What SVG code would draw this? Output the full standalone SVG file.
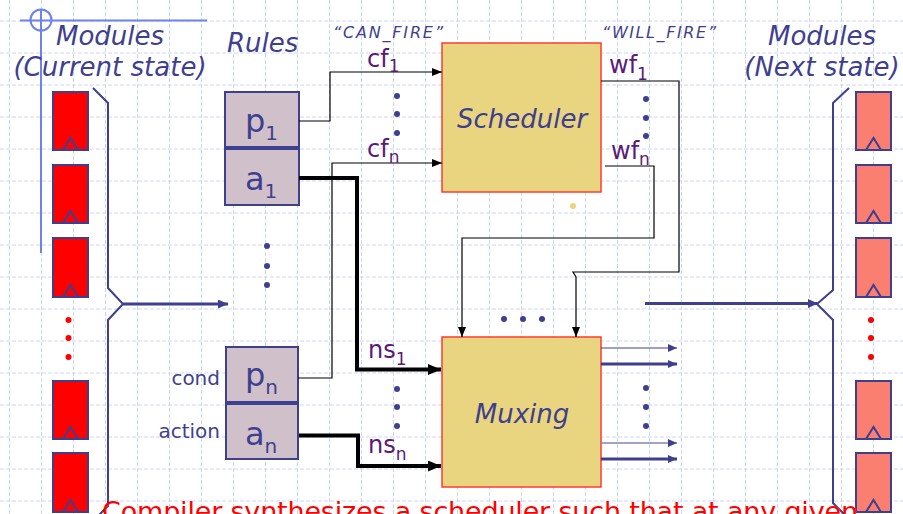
<svg xmlns="http://www.w3.org/2000/svg" width="903" height="514" viewBox="0 0 903 514">
<style>
.grid line{stroke:#cdd5f7;stroke-width:1;stroke-dasharray:4 2}
.deco{fill:none;stroke:#6b82f0;stroke-width:2}
.title{font-family:"DejaVu Sans",Verdana,sans-serif;font-style:italic;fill:#3f3f8f;font-size:26px}
.q{font-family:"DejaVu Sans",Verdana,sans-serif;font-style:italic;fill:#3f3f8f;font-size:16px}
.sig{font-family:"DejaVu Sans",Verdana,sans-serif;fill:#5a1a78;font-size:24px}
.sig tspan{font-size:17px}
.rt{font-family:"DejaVu Sans",Verdana,sans-serif;fill:#3f3f8f;font-size:32px}
.rt tspan{font-size:20px}
.lbl{font-family:"DejaVu Sans",Verdana,sans-serif;fill:#3f3f8f;font-size:20px}
.modL{fill:#ff0000;stroke:#3f3f8f;stroke-width:2}
.modR{fill:#fa7f70;stroke:#3f3f8f;stroke-width:2}
.clk{fill:none;stroke:#3f3f8f;stroke-width:2}
.rule{fill:#d0c0c9;stroke:#3f3f8f;stroke-width:2}
.blk{fill:#e9d580;stroke:#ff3b2f;stroke-width:1.5}
.dot{fill:#3f3f8f}
.rdot{fill:#ff0000}
.thin{fill:none;stroke:#000;stroke-width:1.2}
.thick{fill:none;stroke:#000;stroke-width:4}
.brk{fill:none;stroke:#3f3f8f;stroke-width:2}
.bus{fill:none;stroke:#3f3f8f;stroke-width:3}
.out1{fill:none;stroke:#3f3f8f;stroke-width:1.2}
.out2{fill:none;stroke:#8585b5;stroke-width:1.5}
.foot{font-family:"DejaVu Sans",Verdana,sans-serif;fill:#ff0000;font-size:27px}
</style>
<defs>
<marker id="ah" markerUnits="userSpaceOnUse" markerWidth="10" markerHeight="8" refX="10" refY="4" orient="auto"><path d="M0,0 L10,4 L0,8 z" fill="#000"/></marker>
<marker id="ahT" markerUnits="userSpaceOnUse" markerWidth="13" markerHeight="11" refX="13" refY="5.5" orient="auto"><path d="M0,0 L13,5.5 L0,11 z" fill="#000"/></marker>
<marker id="ahB" markerUnits="userSpaceOnUse" markerWidth="10" markerHeight="9" refX="10" refY="4.5" orient="auto"><path d="M0,0 L10,4.5 L0,9 z" fill="#3f3f8f"/></marker>
<marker id="ahB2" markerUnits="userSpaceOnUse" markerWidth="9" markerHeight="8" refX="9" refY="4" orient="auto"><path d="M0,0 L9,4 L0,8 z" fill="#3f3f8f"/></marker>
</defs>
<rect width="903" height="514" fill="#ffffff"/>
<g class="grid">
<line x1="9.5" y1="0" x2="9.5" y2="514"/><line x1="41.5" y1="0" x2="41.5" y2="514"/><line x1="73.5" y1="0" x2="73.5" y2="514"/><line x1="105.5" y1="0" x2="105.5" y2="514"/><line x1="137.5" y1="0" x2="137.5" y2="514"/><line x1="169.5" y1="0" x2="169.5" y2="514"/><line x1="201.5" y1="0" x2="201.5" y2="514"/><line x1="233.5" y1="0" x2="233.5" y2="514"/><line x1="265.5" y1="0" x2="265.5" y2="514"/><line x1="297.5" y1="0" x2="297.5" y2="514"/><line x1="329.5" y1="0" x2="329.5" y2="514"/><line x1="361.5" y1="0" x2="361.5" y2="514"/><line x1="393.5" y1="0" x2="393.5" y2="514"/><line x1="425.5" y1="0" x2="425.5" y2="514"/><line x1="457.5" y1="0" x2="457.5" y2="514"/><line x1="489.5" y1="0" x2="489.5" y2="514"/><line x1="521.5" y1="0" x2="521.5" y2="514"/><line x1="553.5" y1="0" x2="553.5" y2="514"/><line x1="585.5" y1="0" x2="585.5" y2="514"/><line x1="617.5" y1="0" x2="617.5" y2="514"/><line x1="649.5" y1="0" x2="649.5" y2="514"/><line x1="681.5" y1="0" x2="681.5" y2="514"/><line x1="713.5" y1="0" x2="713.5" y2="514"/><line x1="745.5" y1="0" x2="745.5" y2="514"/><line x1="777.5" y1="0" x2="777.5" y2="514"/><line x1="809.5" y1="0" x2="809.5" y2="514"/><line x1="841.5" y1="0" x2="841.5" y2="514"/><line x1="873.5" y1="0" x2="873.5" y2="514"/>
<line x1="0" y1="21" x2="903" y2="21"/><line x1="0" y1="53" x2="903" y2="53"/><line x1="0" y1="85" x2="903" y2="85"/><line x1="0" y1="117" x2="903" y2="117"/><line x1="0" y1="149" x2="903" y2="149"/><line x1="0" y1="181" x2="903" y2="181"/><line x1="0" y1="213" x2="903" y2="213"/><line x1="0" y1="245" x2="903" y2="245"/><line x1="0" y1="277" x2="903" y2="277"/><line x1="0" y1="309" x2="903" y2="309"/><line x1="0" y1="341" x2="903" y2="341"/><line x1="0" y1="373" x2="903" y2="373"/><line x1="0" y1="405" x2="903" y2="405"/><line x1="0" y1="437" x2="903" y2="437"/><line x1="0" y1="469" x2="903" y2="469"/><line x1="0" y1="501" x2="903" y2="501"/>
</g>
<g id="decoration">
<path class="deco" d="M20,20.5 H207 M41,10 V253"/>
<circle class="deco" cx="41" cy="20" r="10.5" stroke-width="1.5"/>
</g>
<g id="titles">
<text class="title" x="110" y="45" text-anchor="middle">Modules</text>
<text class="title" x="110" y="76" text-anchor="middle">(Current state)</text>
<text class="title" x="227" y="52">Rules</text>
<text class="title" x="822" y="45" text-anchor="middle">Modules</text>
<text class="title" x="822" y="76" text-anchor="middle">(Next state)</text>
<text class="q" x="333" y="38" textLength="110">“CAN_FIRE”</text>
<text class="q" x="602" y="38" textLength="114">“WILL_FIRE”</text>
</g>
<g id="modules-current">
<rect class="modL" x="53" y="92" width="35" height="58"/><path class="clk" d="M63,150 L70.5,138 L78,150"/>
<rect class="modL" x="53" y="165" width="35" height="58"/><path class="clk" d="M63,223 L70.5,211 L78,223"/>
<rect class="modL" x="53" y="238" width="35" height="59"/><path class="clk" d="M63,297 L70.5,285 L78,297"/>
<circle class="rdot" cx="68.5" cy="320" r="3"/><circle class="rdot" cx="68.5" cy="338" r="3"/><circle class="rdot" cx="68.5" cy="357" r="3"/>
<rect class="modL" x="53" y="381" width="35" height="58"/><path class="clk" d="M63,439 L70.5,427 L78,439"/>
<rect class="modL" x="53" y="453" width="35" height="59"/><path class="clk" d="M63,512 L70.5,500 L78,512"/>
</g>
<g id="modules-next">
<rect class="modR" x="856" y="92" width="35" height="58"/><path class="clk" d="M866,150 L873.5,138 L881,150"/>
<rect class="modR" x="856" y="165" width="35" height="58"/><path class="clk" d="M866,223 L873.5,211 L881,223"/>
<rect class="modR" x="856" y="238" width="35" height="59"/><path class="clk" d="M866,297 L873.5,285 L881,297"/>
<circle class="rdot" cx="871" cy="320" r="3"/><circle class="rdot" cx="871" cy="338" r="3"/><circle class="rdot" cx="871" cy="357" r="3"/>
<rect class="modR" x="856" y="381" width="35" height="58"/><path class="clk" d="M866,439 L873.5,427 L881,439"/>
<rect class="modR" x="856" y="453" width="35" height="59"/><path class="clk" d="M866,512 L873.5,500 L881,512"/>
</g>
<g id="rule-1">
<rect class="rule" x="225" y="92" width="74" height="55"/>
<text class="rt" x="245" y="132">p<tspan dy="8">1</tspan></text>
<rect class="rule" x="225" y="149" width="74" height="56"/>
<text class="rt" x="245" y="190">a<tspan dy="8">1</tspan></text>
</g>
<g id="rule-dots">
<circle class="dot" cx="267" cy="246" r="3"/><circle class="dot" cx="267" cy="266" r="3"/><circle class="dot" cx="267" cy="285" r="3"/>
</g>
<g id="rule-n">
<text class="lbl" x="220" y="385" text-anchor="end">cond</text>
<text class="lbl" x="220" y="438" text-anchor="end">action</text>
<rect class="rule" x="226" y="347" width="72" height="55"/>
<text class="rt" x="245" y="386">p<tspan dy="8">n</tspan></text>
<rect class="rule" x="226" y="404" width="72" height="55"/>
<text class="rt" x="245" y="445">a<tspan dy="8">n</tspan></text>
</g>
<g id="scheduler">
<rect class="blk" x="442" y="43" width="159" height="149"/>
<text class="title" x="522" y="128" text-anchor="middle">Scheduler</text>
<circle cx="573" cy="206" r="3" fill="#e9d580"/>
</g>
<g id="muxing">
<rect class="blk" x="442" y="337" width="159" height="150"/>
<text class="title" x="522" y="423" text-anchor="middle">Muxing</text>
</g>
<g id="connectors">
<path class="brk" d="M93,88 L108,103 V288 L123,304 L108,320 V506 L98,516"/>
<path class="brk" d="M849,88 L833,103 V290 L817,304 L833,320 V503 L848,518"/>
<path class="bus" d="M123,304 H228" marker-end="url(#ahB)"/>
<path class="bus" d="M645,303.5 H818" marker-end="url(#ahB)"/>
<path class="thin" d="M299,121 H330 V72 H442" marker-end="url(#ah)"/>
<path class="thin" d="M298,378 H332 V163 H442" marker-end="url(#ah)"/>
<path class="thick" d="M299,178 H357 V369.5 H441" marker-end="url(#ahT)"/>
<path class="thick" d="M299,435.5 H358 V466 H441" marker-end="url(#ahT)"/>
<path class="thin" d="M601,81 H679 V272 H573 L576,277 V337" marker-end="url(#ah)"/>
<path class="thin" d="M605,166 H654 V238 H462 V337" marker-end="url(#ah)"/>
<path class="out1" d="M601,348 H677" marker-end="url(#ahB2)"/>
<path class="bus" d="M601,364 H677" marker-end="url(#ahB2)"/>
<path class="out2" d="M601,443 H677" marker-end="url(#ahB2)"/>
<path class="bus" d="M601,459 H677" marker-end="url(#ahB2)"/>
</g>
<g id="signal-labels">
<text class="sig" x="367" y="67">cf<tspan dy="5">1</tspan></text>
<text class="sig" x="367" y="157">cf<tspan dy="6">n</tspan></text>
<text class="sig" x="609" y="73">wf<tspan dy="7">1</tspan></text>
<text class="sig" x="611" y="159">wf<tspan dy="6">n</tspan></text>
<text class="sig" x="368" y="358">ns<tspan dy="7">1</tspan></text>
<text class="sig" x="368" y="453">ns<tspan dy="7">n</tspan></text>
<circle class="dot" cx="397" cy="96" r="3"/><circle class="dot" cx="397" cy="114" r="3"/><circle class="dot" cx="397" cy="133" r="3"/>
<circle class="dot" cx="646" cy="99" r="3"/><circle class="dot" cx="646" cy="118" r="3"/><circle class="dot" cx="646" cy="136" r="3"/>
<circle class="dot" cx="504" cy="319" r="3"/><circle class="dot" cx="523" cy="319" r="3"/><circle class="dot" cx="542" cy="319" r="3"/>
<circle class="dot" cx="397" cy="389" r="3"/><circle class="dot" cx="397" cy="407" r="3"/><circle class="dot" cx="397" cy="426" r="3"/>
<circle class="dot" cx="646" cy="388" r="3"/><circle class="dot" cx="646" cy="407" r="3"/><circle class="dot" cx="646" cy="426" r="3"/>
</g>
<text class="foot" x="102" y="521" textLength="756">Compiler synthesizes a scheduler such that at any given</text>
</svg>
